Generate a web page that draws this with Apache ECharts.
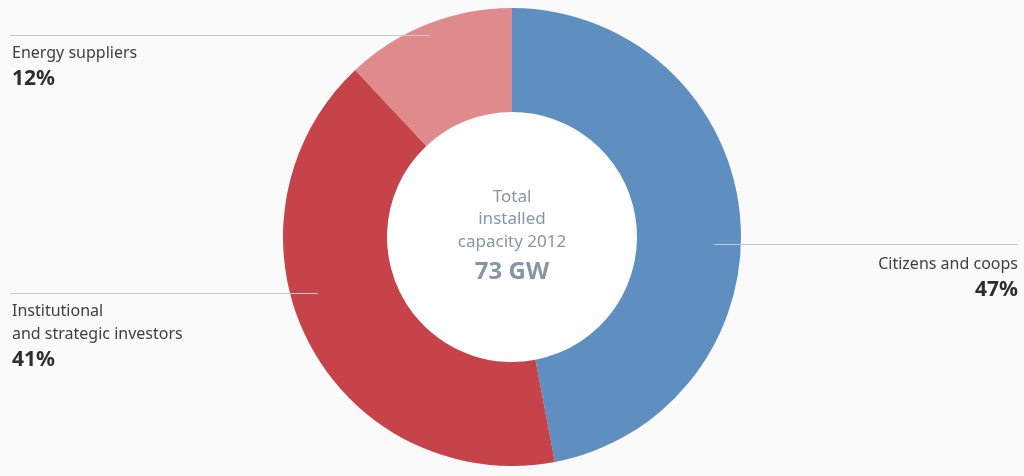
<!DOCTYPE html>
<html><head><meta charset="utf-8">
<script src="https://cdn.jsdelivr.net/npm/echarts@6/dist/echarts.min.js"></script>
<style>html,body{margin:0;padding:0;background:#fafafa;}#c{width:1024px;height:476px;}</style>
</head><body><div id="c"></div>
<script>
var categories = ['Citizens and coops', 'Institutional\nand strategic investors', 'Energy suppliers'];
var shares = [47, 41, 12];
var colors = ['#5f8fc0', '#c7434a', '#df8b8d'];
var centerLines = ['Total', 'installed', 'capacity 2012'];
var centerValue = '73 GW';

var labelPos = [
  {x: 1018, y: 253, align: 'right'},
  {x: 12, y: 300, align: 'left'},
  {x: 12, y: 42, align: 'left'}
];
var leaders = [
  [714, 244, 1018, 244],
  [10, 293, 318, 293],
  [10, 35, 430, 35]
];
var FONT = '"Noto Sans", sans-serif';

var chart = echarts.init(document.getElementById('c'));
var data = categories.map(function (c, i) {
  return {name: c, value: shares[i], itemStyle: {color: colors[i]}};
});
var graphics = leaders.map(function (l) {
  return {type: 'line', z: 100, silent: true,
    shape: {x1: l[0], y1: l[1] + 0.5, x2: l[2], y2: l[3] + 0.5},
    style: {stroke: '#c4c8cc', lineWidth: 1}};
});
var centerTexts = centerLines.map(function (t, i) {
  return {type: 'text', x: 512, y: 197 + i * 22.5, z: 100, silent: true,
    style: {text: t, align: 'center', verticalAlign: 'middle', fill: '#8796a4', font: '17px ' + FONT}};
});
centerTexts.push({type: 'text', x: 512, y: 272, z: 100, silent: true,
  style: {text: centerValue, align: 'center', verticalAlign: 'middle', fill: '#8796a4', font: 'bold 24px ' + FONT}});
graphics = graphics.concat(centerTexts);

chart.setOption({
  backgroundColor: '#fafafa',
  animation: false,
  graphic: graphics,
  series: [
    {
      type: 'pie', silent: true, center: [512, 237], radius: [0, 125], z: 1,
      label: {show: false}, labelLine: {show: false},
      data: [{value: 1, itemStyle: {color: '#ffffff'}}]
    },
    {
      type: 'pie', center: [512, 237], radius: [125, 229], startAngle: 90, clockwise: true,
      data: data,
      label: {
        show: true, fontFamily: FONT,
        formatter: function (p) {
          return p.name.split('\n').map(function (s) { return '{n|' + s + '}'; }).join('\n') + '\n{p|' + p.value + '%}';
        },
        rich: {
          n: {fontSize: 16, color: '#3f3f3f', lineHeight: 23, fontFamily: FONT},
          p: {fontSize: 21, fontWeight: 'bold', color: '#2e2e2e', lineHeight: 28, fontFamily: FONT}
        }
      },
      labelLine: {show: false},
      labelLayout: function (params) {
        var lp = labelPos[params.dataIndex];
        return {x: lp.x, y: lp.y, align: lp.align, verticalAlign: 'top', hideOverlap: false, moveOverlap: null};
      }
    }
  ]
});
</script></body></html>
